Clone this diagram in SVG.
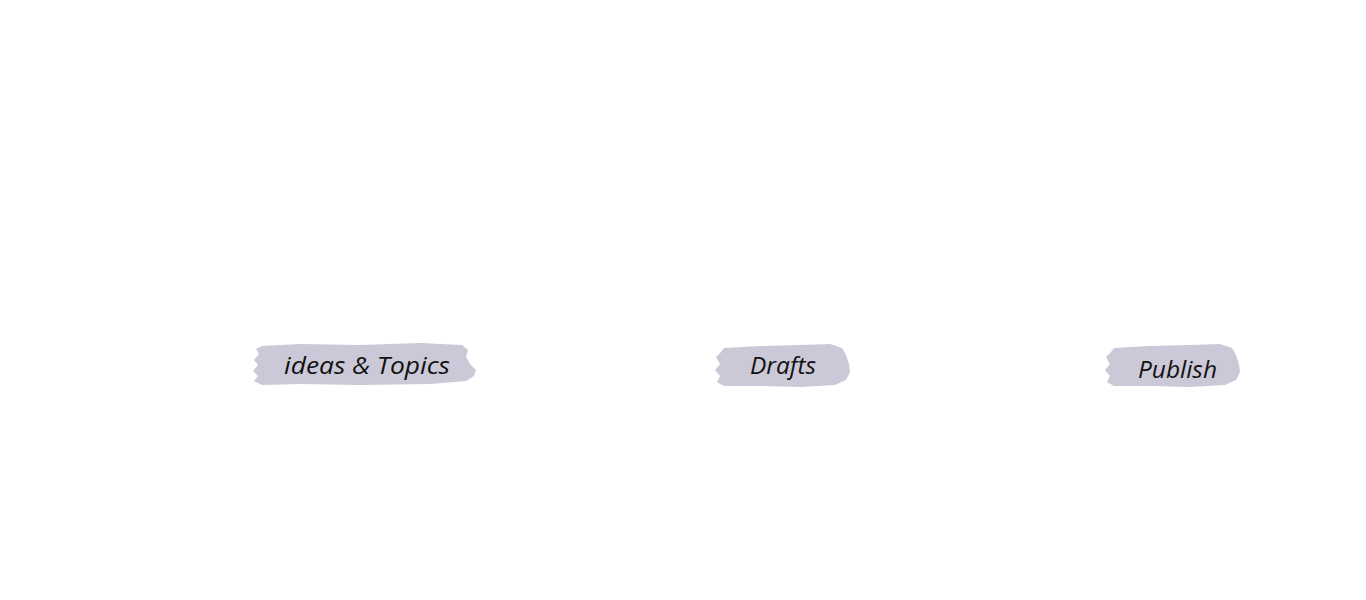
<svg xmlns="http://www.w3.org/2000/svg" width="1366" height="600" viewBox="0 0 1366 600">
<style>
.brush{fill:#cbc8d7}
.lbl{font-family:"Open Sans","Noto Sans",sans-serif;font-style:italic;font-size:24px;fill:#111}
</style>
<rect width="1366" height="600" fill="#fff"/>
<g id="node-ideas">
<path class="brush" d="M262,346 L300,344 L360,345 L420,343 L462,345 L468,350 L466,357 L470,364 L476,370 L474,376 L466,381 L430,384 L360,385 L300,384 L262,385 L254,381 L258,376 L253,371 L258,365 L254,360 L259,354 L256,349 Z"/>
<text class="lbl" x="284" y="374" textLength="166" lengthAdjust="spacingAndGlyphs">ideas &amp; Topics</text>
</g>
<g id="node-drafts">
<path class="brush" d="M724,348 L760,346 L800,345 L830,344 L842,348 L846,355 L849,364 L850,372 L846,380 L835,385 L800,387 L760,386 L724,386 L717,382 L720,376 L715,370 L720,364 L716,357 L721,352 Z"/>
<text class="lbl" x="750" y="374" textLength="66" lengthAdjust="spacingAndGlyphs">Drafts</text>
</g>
<g id="node-publish">
<path class="brush" d="M1114,348 L1150,346 L1190,345 L1220,344 L1232,348 L1236,355 L1239,364 L1240,372 L1236,380 L1225,385 L1190,387 L1150,386 L1114,386 L1107,382 L1110,376 L1105,370 L1110,364 L1106,357 L1111,352 Z"/>
<text class="lbl" x="1138" y="378" textLength="79" lengthAdjust="spacingAndGlyphs">Publish</text>
</g>
<g id="connectors"></g>
</svg>
